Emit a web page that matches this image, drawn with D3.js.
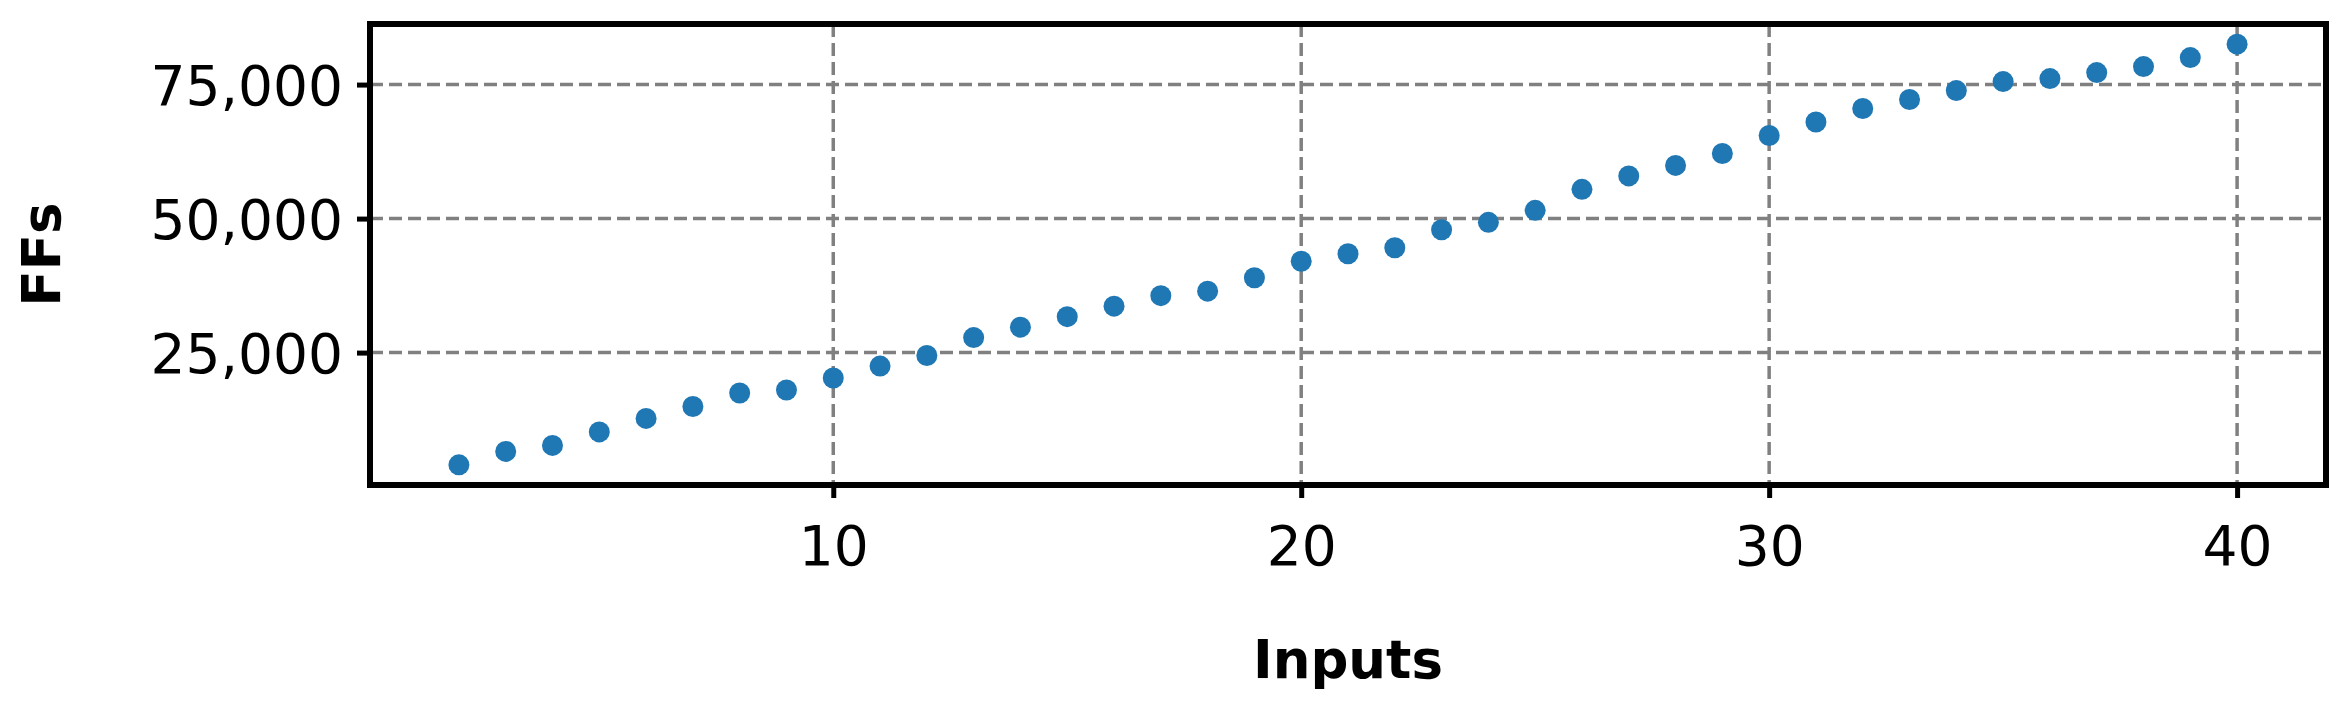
<!DOCTYPE html>
<html><head><meta charset="utf-8">
<script src="https://cdn.jsdelivr.net/npm/d3@7"></script>
<style>body{margin:0;background:#fff}text{font-family:"DejaVu Sans",sans-serif}</style>
</head><body><svg id="c" width="2346" height="712"></svg>
<script>
const inputs = [2,3,4,5,6,7,8,9,10,11,12,13,14,15,16,17,18,19,20,21,22,23,24,25,26,27,28,29,30,31,32,33,34,35,36,37,38,39,40];
const ffs = [4060,6570,7690,10200,12720,14950,17460,18020,20260,22490,24450,27800,29750,31710,33660,35620,36460,38970,42040,43440,44560,47910,49300,51540,55450,57960,59920,62150,65500,68020,70530,72210,73880,75560,76120,77230,78350,80030,82540];
const xTicks = [10,20,30,40];
const yTicks = [25000,50000,75000];

const m = {l:370, r:2326, t:24, b:485};
const svg = d3.select('#c');
const x = d3.scaleLinear().domain([0.1, 41.9]).range([m.l, m.r]);
const y = d3.scaleLinear().domain([300, 86300]).range([m.b, m.t]);

// Grid
const g = svg.append('g');
g.selectAll('.gx').data(xTicks).enter().append('line')
	.attr('x1', d => x(d)).attr('x2', d => x(d)).attr('y1', m.t).attr('y2', m.b)
	.attr('stroke', '#808080').attr('stroke-width', 3.5).attr('stroke-dasharray', '13,6');
g.selectAll('.gy').data(yTicks).enter().append('line')
	.attr('y1', d => y(d)).attr('y2', d => y(d)).attr('x1', m.l).attr('x2', m.r)
	.attr('stroke', '#808080').attr('stroke-width', 3.5).attr('stroke-dasharray', '13,6');

// Points
svg.selectAll('.pt').data(inputs).enter().append('circle')
	.attr('cx', d => x(d)).attr('cy', (d, i) => y(ffs[i])).attr('r', 10.5).attr('fill', '#1f77b4');

// Axes
const xAxis = svg.append('g').attr('transform', `translate(0,${m.b})`)
	.call(d3.axisBottom(x).tickValues(xTicks).tickSize(13).tickPadding(28).tickFormat(d3.format('d')));
const yAxis = svg.append('g').attr('transform', `translate(${m.l},0)`)
	.call(d3.axisLeft(y).tickValues(yTicks).tickSize(13).tickPadding(14).tickFormat(d3.format(',')));
[xAxis, yAxis].forEach(a => {
	a.select('.domain').remove();
	a.selectAll('line').attr('stroke', '#000').attr('stroke-width', 5);
	a.selectAll('text').attr('font-size', 55).attr('fill', '#000').style('font-family', '"DejaVu Sans",sans-serif');
});
yAxis.selectAll('text').attr('dy', '0.36em');

// Frame
svg.append('rect').attr('x', m.l).attr('y', m.t).attr('width', m.r - m.l).attr('height', m.b - m.t)
	.attr('fill', 'none').attr('stroke', '#000').attr('stroke-width', 6);

// Labels
svg.append('text').attr('x', (m.l + m.r) / 2).attr('y', 678).attr('text-anchor', 'middle')
	.attr('font-size', 53).attr('font-weight', 'bold').text('Inputs');
svg.append('text').attr('transform', `translate(60,${(m.t + m.b) / 2}) rotate(-90)`).attr('text-anchor', 'middle')
	.attr('font-size', 53).attr('font-weight', 'bold').text('FFs');
</script></body></html>
